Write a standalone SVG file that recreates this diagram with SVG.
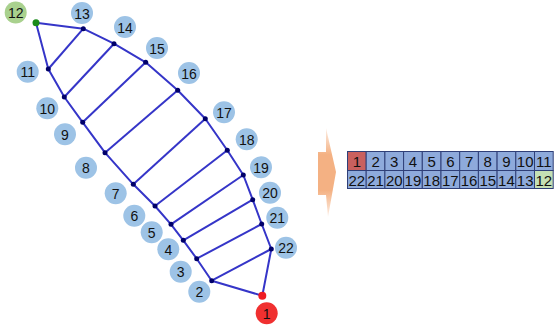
<svg xmlns="http://www.w3.org/2000/svg" width="555" height="331" viewBox="0 0 555 331">
<style>
.e{stroke:#3535c8;stroke-width:2;fill:none;stroke-linejoin:round}
.d{fill:#00006a}
.lb{fill:#9dc3e6}
.t{font-family:"Liberation Sans",Arial,sans-serif;font-size:14px;fill:#111;text-anchor:middle;dominant-baseline:central}
.c{fill:#8eaadb;stroke:#2f3f78;stroke-width:1}
.ct{font-family:"Liberation Sans",Arial,sans-serif;font-size:15px;fill:#111;text-anchor:middle;dominant-baseline:central}
</style>
<defs>
<linearGradient id="ag" x1="0" y1="0" x2="0" y2="1">
<stop offset="0" stop-color="#f4b183" stop-opacity="0.2"/>
<stop offset="0.3" stop-color="#f4b183" stop-opacity="1"/>
<stop offset="0.7" stop-color="#f4b183" stop-opacity="1"/>
<stop offset="1" stop-color="#f4b183" stop-opacity="0.2"/>
</linearGradient>
</defs>
<g id="connectors">
<polygon class="e" points="36,22.7 83.3,28.7 114,43.7 145.7,62.3 177.7,90.3 205.3,118.7 227.3,150.3 243.3,175 252.7,199.7 261.7,224 271.3,249 262.3,295.7 211.7,280.7 196.7,258.7 183.3,240.3 171,224.3 155,206 133.3,184.3 105,152.7 82.7,122.3 64.3,97 48.3,69"/>
<line class="e" x1="83.3" y1="28.7" x2="48.3" y2="69"/>
<line class="e" x1="114" y1="43.7" x2="64.3" y2="97"/>
<line class="e" x1="145.7" y1="62.3" x2="82.7" y2="122.3"/>
<line class="e" x1="177.7" y1="90.3" x2="105" y2="152.7"/>
<line class="e" x1="205.3" y1="118.7" x2="133.3" y2="184.3"/>
<line class="e" x1="227.3" y1="150.3" x2="155" y2="206"/>
<line class="e" x1="243.3" y1="175" x2="171" y2="224.3"/>
<line class="e" x1="252.7" y1="199.7" x2="183.3" y2="240.3"/>
<line class="e" x1="261.7" y1="224" x2="196.7" y2="258.7"/>
<line class="e" x1="271.3" y1="249" x2="211.7" y2="280.7"/>
</g>
<g id="n1"><circle cx="262.3" cy="295.7" r="4" fill="#ee1c24"/><circle cx="266.7" cy="313.3" r="11" fill="#f03030"/><text class="t" x="266.7" y="314">1</text></g>
<g id="n2"><circle class="d" cx="211.7" cy="280.7" r="2.5"/><circle class="lb" cx="199.3" cy="291.7" r="11"/><text class="t" x="199.3" y="292.4">2</text></g>
<g id="n3"><circle class="d" cx="196.7" cy="258.7" r="2.5"/><circle class="lb" cx="180.7" cy="271.7" r="11"/><text class="t" x="180.7" y="272.4">3</text></g>
<g id="n4"><circle class="d" cx="183.3" cy="240.3" r="2.5"/><circle class="lb" cx="168.3" cy="249.3" r="11"/><text class="t" x="168.3" y="250">4</text></g>
<g id="n5"><circle class="d" cx="171" cy="224.3" r="2.5"/><circle class="lb" cx="151.7" cy="232.3" r="11"/><text class="t" x="151.7" y="233">5</text></g>
<g id="n6"><circle class="d" cx="155" cy="206" r="2.5"/><circle class="lb" cx="134.3" cy="215.7" r="11"/><text class="t" x="134.3" y="216.4">6</text></g>
<g id="n7"><circle class="d" cx="133.3" cy="184.3" r="2.5"/><circle class="lb" cx="115.7" cy="193.3" r="11"/><text class="t" x="115.7" y="194">7</text></g>
<g id="n8"><circle class="d" cx="105" cy="152.7" r="2.5"/><circle class="lb" cx="86" cy="167.7" r="11"/><text class="t" x="86" y="168.4">8</text></g>
<g id="n9"><circle class="d" cx="82.7" cy="122.3" r="2.5"/><circle class="lb" cx="65" cy="134.3" r="11"/><text class="t" x="65" y="135">9</text></g>
<g id="n10"><circle class="d" cx="64.3" cy="97" r="2.5"/><circle class="lb" cx="47.3" cy="108.3" r="11"/><text class="t" x="47.3" y="109">10</text></g>
<g id="n11"><circle class="d" cx="48.3" cy="69" r="2.5"/><circle class="lb" cx="27.7" cy="71.7" r="11"/><text class="t" x="27.7" y="72.4">11</text></g>
<g id="n12"><circle cx="36" cy="22.7" r="3.5" fill="#1a8a1a"/><circle cx="15.7" cy="12.5" r="11" fill="#a9d18e"/><text class="t" x="15.7" y="13.2">12</text></g>
<g id="n13"><circle class="d" cx="83.3" cy="28.7" r="2.5"/><circle class="lb" cx="82" cy="13" r="11"/><text class="t" x="82" y="13.7">13</text></g>
<g id="n14"><circle class="d" cx="114" cy="43.7" r="2.5"/><circle class="lb" cx="125" cy="27" r="11"/><text class="t" x="125" y="27.7">14</text></g>
<g id="n15"><circle class="d" cx="145.7" cy="62.3" r="2.5"/><circle class="lb" cx="157" cy="48" r="11"/><text class="t" x="157" y="48.7">15</text></g>
<g id="n16"><circle class="d" cx="177.7" cy="90.3" r="2.5"/><circle class="lb" cx="189" cy="73" r="11"/><text class="t" x="189" y="73.7">16</text></g>
<g id="n17"><circle class="d" cx="205.3" cy="118.7" r="2.5"/><circle class="lb" cx="224" cy="112.3" r="11"/><text class="t" x="224" y="113">17</text></g>
<g id="n18"><circle class="d" cx="227.3" cy="150.3" r="2.5"/><circle class="lb" cx="246.7" cy="139.3" r="11"/><text class="t" x="246.7" y="140">18</text></g>
<g id="n19"><circle class="d" cx="243.3" cy="175" r="2.5"/><circle class="lb" cx="261" cy="167.3" r="11"/><text class="t" x="261" y="168">19</text></g>
<g id="n20"><circle class="d" cx="252.7" cy="199.7" r="2.5"/><circle class="lb" cx="270" cy="192.7" r="11"/><text class="t" x="270" y="193.4">20</text></g>
<g id="n21"><circle class="d" cx="261.7" cy="224" r="2.5"/><circle class="lb" cx="277.3" cy="217.7" r="11"/><text class="t" x="277.3" y="218.4">21</text></g>
<g id="n22"><circle class="d" cx="271.3" cy="249" r="2.5"/><circle class="lb" cx="286" cy="247.7" r="11"/><text class="t" x="286" y="248.4">22</text></g>
<g id="arrow"><polygon points="318,152 326,152 326,128 336,172 328,217 326,195 318,195" fill="url(#ag)"/></g>
<g id="table">
<rect class="c" x="347.5" y="151.5" width="18.7" height="19" style="fill:#c9605e"/>
<rect class="c" x="366.2" y="151.5" width="18.7" height="19"/>
<rect class="c" x="384.9" y="151.5" width="18.7" height="19"/>
<rect class="c" x="403.6" y="151.5" width="18.7" height="19"/>
<rect class="c" x="422.3" y="151.5" width="18.7" height="19"/>
<rect class="c" x="441" y="151.5" width="18.7" height="19"/>
<rect class="c" x="459.7" y="151.5" width="18.7" height="19"/>
<rect class="c" x="478.4" y="151.5" width="18.7" height="19"/>
<rect class="c" x="497.1" y="151.5" width="18.7" height="19"/>
<rect class="c" x="515.8" y="151.5" width="18.7" height="19"/>
<rect class="c" x="534.5" y="151.5" width="18.7" height="19"/>
<rect class="c" x="347.5" y="170.5" width="18.7" height="18"/>
<rect class="c" x="366.2" y="170.5" width="18.7" height="18"/>
<rect class="c" x="384.9" y="170.5" width="18.7" height="18"/>
<rect class="c" x="403.6" y="170.5" width="18.7" height="18"/>
<rect class="c" x="422.3" y="170.5" width="18.7" height="18"/>
<rect class="c" x="441" y="170.5" width="18.7" height="18"/>
<rect class="c" x="459.7" y="170.5" width="18.7" height="18"/>
<rect class="c" x="478.4" y="170.5" width="18.7" height="18"/>
<rect class="c" x="497.1" y="170.5" width="18.7" height="18"/>
<rect class="c" x="515.8" y="170.5" width="18.7" height="18"/>
<rect class="c" x="534.5" y="170.5" width="18.7" height="18" style="fill:#c5e0b4"/>
<text class="ct" x="356.85" y="161.5">1</text>
<text class="ct" x="375.55" y="161.5">2</text>
<text class="ct" x="394.25" y="161.5">3</text>
<text class="ct" x="412.95" y="161.5">4</text>
<text class="ct" x="431.65" y="161.5">5</text>
<text class="ct" x="450.35" y="161.5">6</text>
<text class="ct" x="469.05" y="161.5">7</text>
<text class="ct" x="487.75" y="161.5">8</text>
<text class="ct" x="506.45" y="161.5">9</text>
<text class="ct" x="525.15" y="161.5">10</text>
<text class="ct" x="543.85" y="161.5">11</text>
<text class="ct" x="356.85" y="180">22</text>
<text class="ct" x="375.55" y="180">21</text>
<text class="ct" x="394.25" y="180">20</text>
<text class="ct" x="412.95" y="180">19</text>
<text class="ct" x="431.65" y="180">18</text>
<text class="ct" x="450.35" y="180">17</text>
<text class="ct" x="469.05" y="180">16</text>
<text class="ct" x="487.75" y="180">15</text>
<text class="ct" x="506.45" y="180">14</text>
<text class="ct" x="525.15" y="180">13</text>
<text class="ct" x="543.85" y="180">12</text>
</g>
</svg>
